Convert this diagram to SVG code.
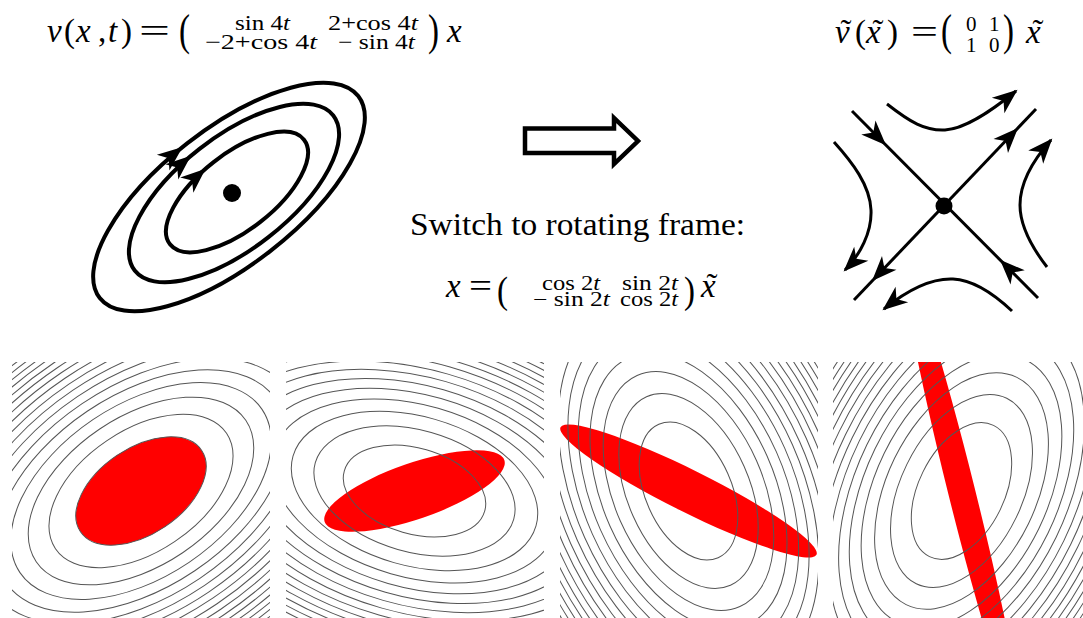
<svg xmlns="http://www.w3.org/2000/svg" width="1083" height="618" viewBox="0 0 1083 618">
<style>
.t{font-family:"Liberation Serif","Times New Roman",serif;fill:#000}
.i{font-style:italic}
.ln{fill:none;stroke:#000;stroke-width:3}
.orb{fill:none;stroke:#000;stroke-width:4}
.ct{fill:none;stroke:#555;stroke-width:1}
.red{fill:#ff0000}
</style>
<defs>
<clipPath id="c1"><rect x="12" y="362" width="258" height="258"/></clipPath>
<clipPath id="c2"><rect x="286" y="362" width="258" height="258"/></clipPath>
<clipPath id="c3"><rect x="560" y="362" width="258" height="258"/></clipPath>
<clipPath id="c4"><rect x="833" y="362" width="258" height="258"/></clipPath>
<path id="ah" d="M0,0 L-25,-10 L-18,0 L-25,10 Z" fill="#000"/>
<marker id="mk" markerUnits="userSpaceOnUse" viewBox="-27 -13 32 26" markerWidth="32" markerHeight="26" refX="-2" refY="0" orient="auto" overflow="visible"><path d="M0,0 L-25,-10 L-18,0 L-25,10 Z" fill="#000"/></marker>
<g id="ct" class="ct">
<ellipse rx="73" ry="43"/><ellipse rx="103.2" ry="60.8"/><ellipse rx="126.4" ry="74.5"/><ellipse rx="146" ry="86"/>
<ellipse rx="163.2" ry="96.2"/><ellipse rx="178.8" ry="105.3"/><ellipse rx="193.1" ry="113.8"/><ellipse rx="206.5" ry="121.6"/>
<ellipse rx="219" ry="129"/><ellipse rx="230.8" ry="136"/><ellipse rx="242.1" ry="142.6"/><ellipse rx="252.9" ry="149"/>
<ellipse rx="263.2" ry="155"/><ellipse rx="273.1" ry="160.9"/><ellipse rx="282.7" ry="166.5"/><ellipse rx="292" ry="172"/>
<ellipse rx="301" ry="177.3"/><ellipse rx="309.7" ry="182.4"/><ellipse rx="318.2" ry="187.4"/><ellipse rx="326.5" ry="192.3"/>
<ellipse rx="334.5" ry="197"/><ellipse rx="342.4" ry="201.7"/>
</g>
</defs>
<rect width="1083" height="618" fill="#fff"/>

<g id="eq-v">
<text class="t i" x="47" y="42" font-size="33">v</text>
<text class="t" x="64" y="42" font-size="33">(</text>
<text class="t i" x="76" y="42" font-size="33">x</text>
<text class="t" x="98" y="42" font-size="33">,</text>
<text class="t i" x="108" y="42" font-size="33">t</text>
<text class="t" x="121" y="42" font-size="33">)</text>
<text class="t" x="139" y="42" font-size="33" textLength="31" lengthAdjust="spacingAndGlyphs">=</text>
<text class="t" transform="translate(179,45.3) scale(1,1.33)" font-size="33">(</text>
<text class="t" x="235" y="30" font-size="21" textLength="55" lengthAdjust="spacingAndGlyphs">sin 4<tspan class="i">t</tspan></text>
<text class="t" x="328" y="30" font-size="21" textLength="90" lengthAdjust="spacingAndGlyphs">2+cos 4<tspan class="i">t</tspan></text>
<text class="t" x="205" y="49" font-size="21" textLength="112" lengthAdjust="spacingAndGlyphs">−2+cos 4<tspan class="i">t</tspan></text>
<text class="t" x="338" y="49" font-size="21" textLength="77" lengthAdjust="spacingAndGlyphs">− sin 4<tspan class="i">t</tspan></text>
<text class="t" transform="translate(428,45.3) scale(1,1.33)" font-size="33">)</text>
<text class="t i" x="447" y="42" font-size="33">x</text>
</g>

<g id="eq-vt">
<text class="t i" x="835" y="43" font-size="33">v</text>
<text class="t" x="846" y="43" font-size="33" text-anchor="middle">˜</text>
<text class="t" x="855" y="43" font-size="33">(</text>
<text class="t i" x="866" y="43" font-size="33">x</text>
<text class="t" x="878" y="43" font-size="33" text-anchor="middle">˜</text>
<text class="t" x="887" y="43" font-size="33">)</text>
<text class="t" x="911" y="43" font-size="33" textLength="27" lengthAdjust="spacingAndGlyphs">=</text>
<text class="t" transform="translate(941,45.3) scale(1,1.33)" font-size="33">(</text>
<text class="t" x="966" y="31" font-size="21">0</text>
<text class="t" x="989" y="31" font-size="21">1</text>
<text class="t" x="966" y="52" font-size="21">1</text>
<text class="t" x="989" y="52" font-size="21">0</text>
<text class="t" transform="translate(1003,45.3) scale(1,1.33)" font-size="33">)</text>
<text class="t i" x="1026" y="43" font-size="33">x</text>
<text class="t" x="1038" y="43" font-size="33" text-anchor="middle">˜</text>
</g>

<g id="eq-frame">
<text class="t" x="410" y="235" font-size="31" textLength="335" lengthAdjust="spacingAndGlyphs">Switch to rotating frame:</text>
<text class="t i" x="446" y="297" font-size="33">x</text>
<text class="t" x="469" y="297" font-size="33" textLength="23" lengthAdjust="spacingAndGlyphs">=</text>
<text class="t" transform="translate(497,302.7) scale(1,1.13)" font-size="33">(</text>
<text class="t" x="542" y="290" font-size="20" textLength="58" lengthAdjust="spacingAndGlyphs">cos 2<tspan class="i">t</tspan></text>
<text class="t" x="622" y="290" font-size="20" textLength="56" lengthAdjust="spacingAndGlyphs">sin 2<tspan class="i">t</tspan></text>
<text class="t" x="533" y="306" font-size="20" textLength="77" lengthAdjust="spacingAndGlyphs">− sin 2<tspan class="i">t</tspan></text>
<text class="t" x="620" y="306" font-size="20" textLength="58" lengthAdjust="spacingAndGlyphs">cos 2<tspan class="i">t</tspan></text>
<text class="t" transform="translate(684,302.7) scale(1,1.13)" font-size="33">)</text>
<text class="t i" x="701" y="297" font-size="33">x</text>
<text class="t" x="712" y="297" font-size="33" text-anchor="middle">˜</text>
</g>

<g id="orbit">
<ellipse class="orb" cx="229" cy="197" rx="164" ry="68" transform="rotate(-38 229 197)"/>
<ellipse class="orb" cx="234" cy="193" rx="126" ry="56" transform="rotate(-38 234 193)"/>
<ellipse class="orb" cx="237" cy="192" rx="85" ry="38" transform="rotate(-38 237 192)"/>
<use href="#ah" transform="translate(182.6,146.9) rotate(-38.9)"/>
<use href="#ah" transform="translate(190.9,155.8) rotate(-40.3)"/>
<use href="#ah" transform="translate(205.6,168.7) rotate(-41.1)"/>
<circle cx="232" cy="193" r="9" fill="#000"/>
</g>

<g id="saddle">
<line class="ln" x1="852" y1="111" x2="1038" y2="298"/>
<line class="ln" x1="1036" y1="109" x2="854" y2="300"/>
<use href="#ah" transform="translate(886,145.2) rotate(45.15)"/>
<use href="#ah" transform="translate(1000,259.7) rotate(-134.85)"/>
<use href="#ah" transform="translate(1018,127.9) rotate(-46.4)"/>
<use href="#ah" transform="translate(872,281) rotate(133.6)"/>
<path class="ln" d="M887,104 C910,122 925,131 945,130 C965,129 990,112 1016,91" marker-end="url(#mk)"/>
<path class="ln" d="M1047,267 C1030,245 1020,225 1020,205 C1020,180 1035,158 1051,140" marker-end="url(#mk)"/>
<path class="ln" d="M834,142 C852,162 870,185 871,210 C872,232 860,255 845,270" marker-end="url(#mk)"/>
<path class="ln" d="M1012,311 C995,295 975,280 953,279 C930,278 905,292 884,309" marker-end="url(#mk)"/>
<circle cx="944" cy="206" r="8.5" fill="#000"/>
</g>

<g id="connectors">
<polygon points="525,128.5 614,128.5 614,118 638,141 614,164 614,153 525,153" fill="#fff" stroke="#000" stroke-width="4.5" stroke-linejoin="miter"/>
</g>

<g id="panel1" clip-path="url(#c1)">
<ellipse class="red" cx="141" cy="491" rx="73" ry="43" transform="rotate(-34 141 491)"/>
<use href="#ct" transform="translate(141,491) rotate(-34)"/>
</g>
<g id="panel2" clip-path="url(#c2)">
<ellipse class="red" cx="414.5" cy="491" rx="95" ry="28" transform="rotate(-19 414.5 491)"/>
<use href="#ct" transform="translate(414.5,491) rotate(16)"/>
</g>
<g id="panel3" clip-path="url(#c3)">
<ellipse class="red" cx="688.5" cy="491" rx="143" ry="21" transform="rotate(26.5 688.5 491)"/>
<use href="#ct" transform="translate(688.5,491) rotate(66)"/>
</g>
<g id="panel4" clip-path="url(#c4)">
<ellipse class="red" cx="961.5" cy="491" rx="235" ry="13.5" transform="rotate(76 961.5 491)"/>
<use href="#ct" transform="translate(961.5,491) rotate(116)"/>
</g>
</svg>
